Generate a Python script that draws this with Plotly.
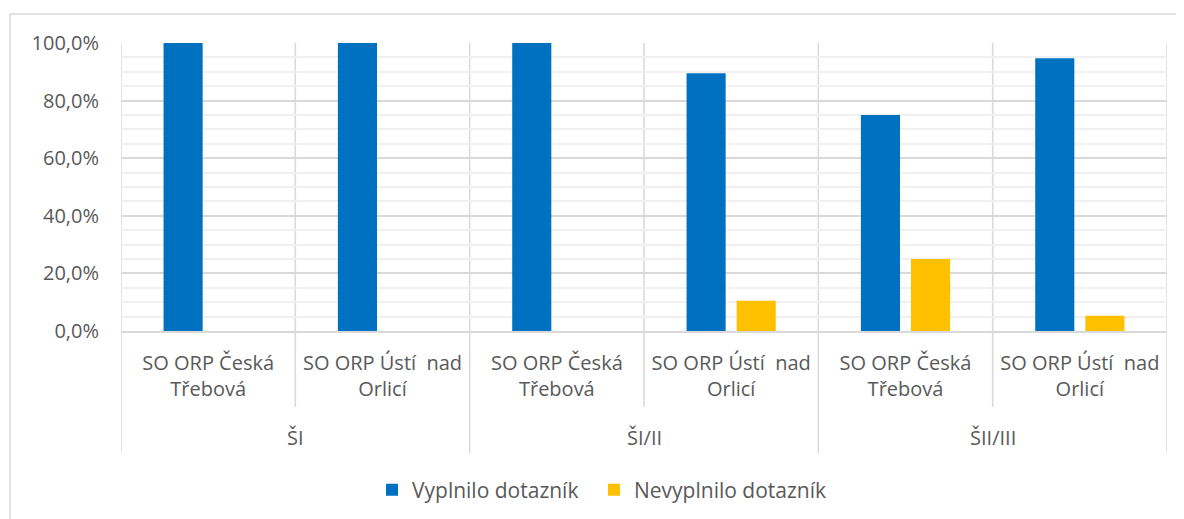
import plotly.graph_objects as go

groups = ["ŠI", "ŠI", "ŠI/II", "ŠI/II", "ŠII/III", "ŠII/III"]
subcats = ["SO ORP Česká<br>Třebová", "SO ORP Ústí\u00a0 nad<br>Orlicí",
           "SO ORP Česká<br>Třebová", "SO ORP Ústí\u00a0 nad<br>Orlicí",
           "SO ORP Česká<br>Třebová", "SO ORP Ústí\u00a0 nad<br>Orlicí"]
vyplnilo = [1.0, 1.0, 1.0, 0.8947, 0.75, 0.9474]
nevyplnilo = [0.0, 0.0, 0.0, 0.1053, 0.25, 0.0526]
series_names = ["Vyplnilo dotazník", "Nevyplnilo dotazník"]
colors = ["#0070C0", "#FFC000"]

keys = [f"{g}|{i}" for i, g in enumerate(groups)]

# page layout (page pixels); html body has an 8px margin
OFF = 8
PL, PR, PT, PB = 121, 1167, 43, 331
W, H = 1184, 519
L, T = PL - OFF, PT - OFF
R, B = W - (PR - OFF), H - (PB - OFF)
pw, ph = PR - PL, PB - PT
FONT = "Open Sans"
TXT = "#595959"


def py(p):
    return (PB - p) / ph


def px(p):
    return (p - PL) / pw


fig = go.Figure()
fig.add_trace(go.Bar(x=keys, y=vyplnilo, name=series_names[0], marker_color=colors[0],
                     marker_line_width=0, legend="legend"))
fig.add_trace(go.Bar(x=keys, y=nevyplnilo, name=series_names[1], marker_color=colors[1],
                     marker_line_width=0, legend="legend2"))

shapes = []
# outer chart border
shapes.append(dict(type="rect", xref="paper", yref="paper",
                   x0=px(10), x1=px(1220), y0=py(580), y1=py(14),
                   line=dict(color="#d9d9d9", width=1.5), layer="below"))
# vertical category separators
for i in range(len(keys) + 1):
    is_group = (i == 0 or i == len(keys) or groups[i] != groups[i - 1])
    shapes.append(dict(type="line", xref="x", yref="paper",
                       x0=i - 0.5, x1=i - 0.5, y0=1, y1=py(453 if is_group else 407),
                       line=dict(color="#d9d9d9", width=1.5), layer="below"))

annotations = []
uniq = []
for g in groups:
    if g not in uniq:
        uniq.append(g)
for g in uniq:
    idx = [i for i, gg in enumerate(groups) if gg == g]
    annotations.append(dict(x=(idx[0] + idx[-1]) / 2, y=py(437), xref="x", yref="paper",
                            text=g, showarrow=False, yanchor="middle",
                            font=dict(family=FONT, size=20, color=TXT)))

leg_common = dict(orientation="h", xanchor="left", yanchor="middle", y=py(490),
                  font=dict(family=FONT, size=21, color=TXT), bgcolor="rgba(0,0,0,0)")

fig.update_layout(
    width=W, height=H,
    margin=dict(l=L, r=R, t=T, b=B, autoexpand=False),
    paper_bgcolor="white", plot_bgcolor="white",
    separators=", ",
    barmode="group", bargap=0.425, bargroupgap=0.22,
    font=dict(family=FONT, size=20, color=TXT),
    showlegend=True,
    legend=dict(x=px(372), **leg_common),
    legend2=dict(x=px(594), **leg_common),
    shapes=shapes, annotations=annotations,
    xaxis=dict(type="category", tickvals=keys, ticktext=subcats, showgrid=False, automargin=False,
               ticks="outside", ticklen=13, tickcolor="rgba(0,0,0,0)",
               showline=True, linecolor="#d9d9d9", linewidth=1.5,
               tickfont=dict(family=FONT, size=20, color=TXT), range=[-0.5, 5.5]),
    yaxis=dict(range=[0, 1], dtick=0.2, tickformat=".1%", showgrid=True, automargin=False,
               gridcolor="#d9d9d9", gridwidth=1.5, zeroline=False,
               ticks="outside", ticklen=17, tickcolor="rgba(0,0,0,0)",
               minor=dict(dtick=0.05, showgrid=True, gridcolor="#f0f0f0", gridwidth=1.5),
               tickfont=dict(family=FONT, size=20, color=TXT)),
)
fig.write_html("out.html")
